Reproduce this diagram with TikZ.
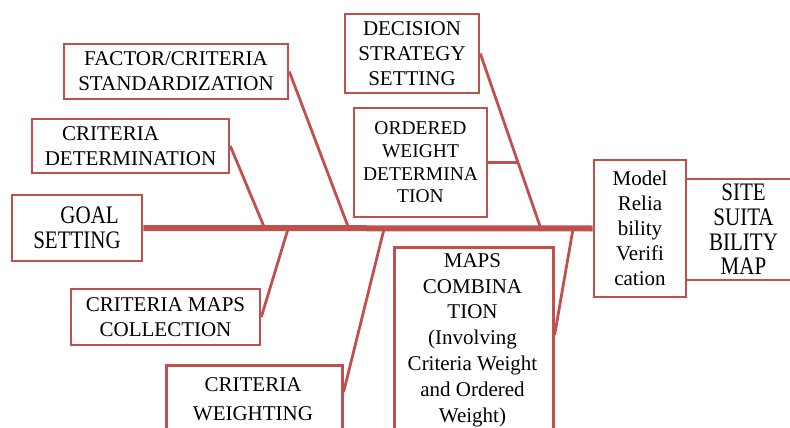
\documentclass[tikz,border=0pt]{standalone}
\usepackage{fontspec}
\setmainfont{LiberationSerif}[Extension = .ttf, UprightFont = *-Regular]
\usetikzlibrary{positioning,calc}
\definecolor{fishred}{RGB}{192,80,77}

\begin{document}
\begin{tikzpicture}[
x = 1pt, y = -1pt,
every node/.style = {
	font = \rmfamily\fontsize{21}{25}\selectfont,
	align = center
},
box/.style = {
	draw = fishred,
	line width = 2.6pt,
	inner sep = 0pt
},
tall/.style = {
	yscale = 1.2,
	transform shape
},
bone/.style = {
	draw = fishred,
	line width = 2.8pt
},
spine/.style = {
	draw = fishred,
	line width = 6pt
}
]
\useasboundingbox (0,0) rectangle (790,428);

% head and tail
\node (goal) [box, minimum width = 130pt, minimum height = 66pt] at (77,228) {};
\node (goal_t) [tall, font = \rmfamily\fontsize{21}{21}\selectfont] at (goal.center) {\hspace*{1.2em}GOAL\\SETTING};
\node (model) [box, minimum width = 92pt, minimum height = 137pt] at (640,228.5) {Model\\Relia\\bility\\Verifi\\cation};
\node (site) [box, minimum width = 112pt, minimum height = 101pt] at (742,229.5) {};
\node (site_t) [tall, font = \rmfamily\fontsize{21}{20.5}\selectfont] at (743.5,229.5) {SITE\\SUITA\\BILITY\\MAP};

% upper boxes
\node (std) [box, minimum width = 224pt, minimum height = 55pt] at (176,71.5) {FACTOR/CRITERIA\\STANDARDIZATION};
\node (det) [box, minimum width = 197pt, minimum height = 54pt] at (130.5,146) {CRITERIA\hspace*{1.9em}\\DETERMINATION};
\node (dec) [box, minimum width = 134pt, minimum height = 79pt] at (412,53.5) {DECISION\\STRATEGY\\SETTING};
\node (ord) [box, minimum width = 133pt, minimum height = 109pt, font = \rmfamily\fontsize{19.5}{22.7}\selectfont] at (420.5,162.5) {ORDERED\\WEIGHT\\DETERMINA\\TION};

% lower boxes
\node (col) [box, minimum width = 189pt, minimum height = 56pt] at (165.5,317) {CRITERIA MAPS\\COLLECTION};
\node (wgt) [box, minimum width = 176pt, minimum height = 96pt, anchor = north west] at (165,364) {};
\node (wgt_t) [font = \rmfamily\fontsize{21}{29}\selectfont] at (253,399) {CRITERIA\\WEIGHTING};
\node (cmb) [box, minimum width = 159pt, minimum height = 200pt, anchor = north west] at (393,246) {};
\node (cmb_t) [font = \rmfamily\fontsize{21}{25.8}\selectfont] at (472.5,340) {MAPS\\COMBINA\\TION\\(Involving\\Criteria Weight\\and Ordered\\Weight)};

% joints on the spine
\coordinate (j_det) at (265,229);
\coordinate (j_col) at (288,229);
\coordinate (j_std) at (349,229);
\coordinate (j_wgt) at (384,229);
\coordinate (j_dec) at (541,229);
\coordinate (j_cmb) at (573,229);
\coordinate (j_ord) at ($(dec.east)!0.621!(j_dec)$);

\draw [spine] (goal.east) -- (model.west);

\draw [bone] (det.east) -- (j_det);
\draw [bone] (std.east) -- (j_std);
\draw [bone] (dec.east) -- (j_dec);
\draw [bone] (ord.east) -- (ord.east -| j_ord);
\draw [bone] (col.east) -- (j_col);
\draw [bone] ([yshift=-28pt]wgt.north east) -- (j_wgt);
\draw [bone] ([yshift=-89pt]cmb.north east) -- (j_cmb);

\end{tikzpicture}
\end{document}
